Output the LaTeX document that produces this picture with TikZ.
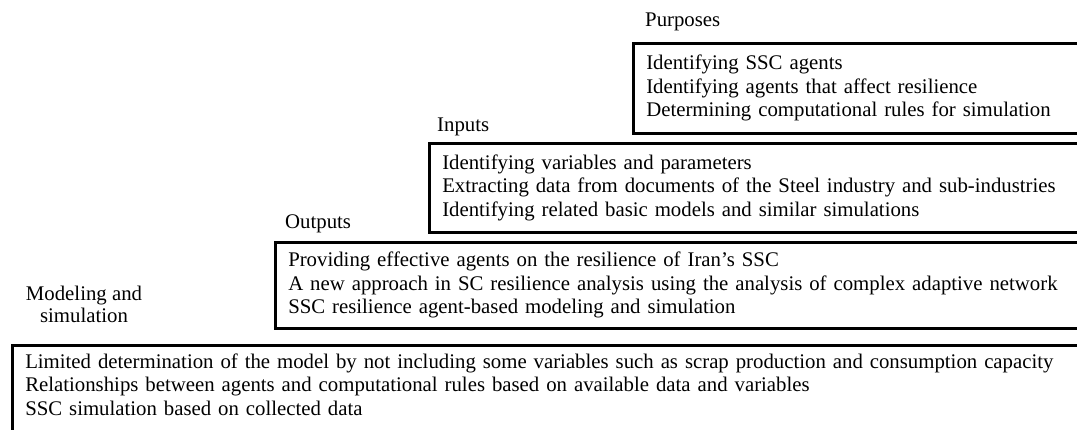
\documentclass[tikz,border=0pt]{standalone}
\usepackage{fontspec}
\setmainfont{Liberation Serif}
\usepackage{tikz}

\begin{document}
\begin{tikzpicture}[x=1pt,y=-1pt,
    stage/.style={draw,line width=3.5pt,anchor=north west,align=left,inner xsep=13pt,font=\fontsize{20.8}{23.4}\selectfont},
    tag/.style={anchor=base west,inner sep=0pt,font=\fontsize{20.8}{22}\selectfont}]
    \useasboundingbox (0,0) rectangle (1077,429);
    \clip (0,0) rectangle (1077,429);
    \node[stage,text width=437.5pt,minimum height=90pt] (purp) at (631.5,41.5)
        {Identifying SSC agents\\Identifying agents that affect resilience\\Determining computational rules for simulation};
    \node[stage,text width=641.5pt,minimum height=89pt] (inp) at (427.5,141.5)
        {Identifying variables and parameters\\Extracting data from documents of the Steel industry and sub-industries\\Identifying related basic models and similar simulations};
    \node[stage,text width=795.5pt,minimum height=86pt] (outp) at (273.5,240.5)
        {Providing effective agents on the resilience of Iran{\char"27}s SSC\\A new approach in SC resilience analysis using the analysis of complex adaptive network\\SSC resilience agent-based modeling and simulation};
    \node[stage,text width=1058.5pt,inner ysep=8.5pt,text depth=80pt] (model) at (10.5,343.5)
        {Limited determination of the model by not including some variables such as scrap production and consumption capacity\\Relationships between agents and computational rules based on available data and variables\\SSC simulation based on collected data};
    \node[tag] (purp-tag) at (645,26) {Purposes};
    \node[tag] (inp-tag) at (437,131) {Inputs};
    \node[tag] (outp-tag) at (285,228) {Outputs};
    \node[tag,anchor=center,align=center] (model-tag) at (84,304) {Modeling and\\simulation};
\end{tikzpicture}
\end{document}
